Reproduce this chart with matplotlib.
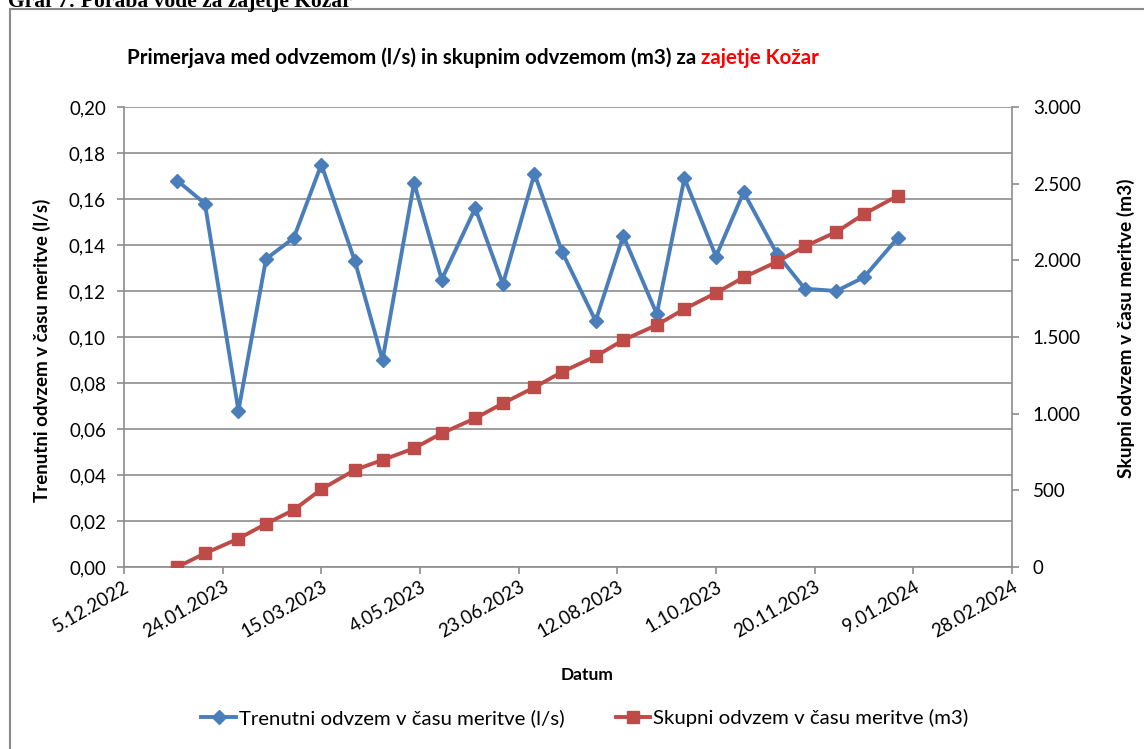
"""Primerjava odvzema (l/s) in skupnega odvzema (m3) za zajetje Kožar.

Leva os: trenutni odvzem, desna os: skupni odvzem. Writes out.png.
"""
from datetime import date, timedelta

import matplotlib
matplotlib.use("Agg")
import matplotlib.pyplot as plt
import matplotlib.dates as mdates
from matplotlib.lines import Line2D
from matplotlib.patches import Rectangle
from matplotlib.ticker import FuncFormatter, MultipleLocator

# ---- data
datumi = ["2023-01-01", "2023-01-15", "2023-02-01", "2023-02-15", "2023-03-01",
          "2023-03-15", "2023-04-01", "2023-04-15", "2023-05-01", "2023-05-15",
          "2023-06-01", "2023-06-15", "2023-07-01", "2023-07-15", "2023-08-01",
          "2023-08-15", "2023-09-01", "2023-09-15", "2023-10-01", "2023-10-15",
          "2023-11-01", "2023-11-15", "2023-12-01", "2023-12-15", "2024-01-01"]
trenutni = [0.168, 0.158, 0.068, 0.134, 0.143, 0.175, 0.133, 0.090, 0.167,
            0.125, 0.156, 0.123, 0.171, 0.137, 0.107, 0.144, 0.110, 0.169,
            0.135, 0.163, 0.136, 0.121, 0.120, 0.126, 0.143]
skupni = [0, 89, 185, 282, 372, 507, 633, 698, 774, 872, 970, 1067, 1172,
          1272, 1374, 1480, 1578, 1683, 1787, 1889, 1991, 2091, 2185, 2302,
          2420]
x_start = date(2022, 12, 5)
x_end = date(2024, 2, 28)

BLUE = "#4A7EBB"
RED = "#BE4B48"
GRID = "#8C8C8C"
FONT = ["Lato", "DejaVu Sans"]

plt.rcParams["font.family"] = FONT
W, H = 1144, 749
fig = plt.figure(figsize=(W / 100, H / 100), dpi=100)


def fx(px):
    return px / W


def fy(py):
    return 1 - py / H


# chart frame and (cut off) caption above it
fig.patches.append(Rectangle((fx(10), fy(760)), fx(1160), fy(9) - fy(760),
                             transform=fig.transFigure, fill=False,
                             edgecolor="#8A8A8A", linewidth=1.5))
fig.text(fx(8), fy(7), "Graf 7: Poraba vode za zajetje Kožar",
         family=["Liberation Serif", "DejaVu Serif"], weight="bold",
         fontsize=15.5, va="baseline", ha="left")

ax = fig.add_axes([fx(124), fy(567), fx(1012) - fx(124), fy(107) - fy(567)])
ax2 = ax.twinx()

x = mdates.datestr2num(datumi)
ax.plot(x, trenutni, color=BLUE, lw=2.8, marker="D", ms=7,
        markeredgecolor=BLUE, zorder=3)
ax2.plot(x, skupni, color=RED, lw=2.8, marker="s", ms=8,
         markeredgecolor=RED, zorder=3)

ax.set_xlim(mdates.date2num(x_start), mdates.date2num(x_end))
ax.set_ylim(0, 0.20)
ax2.set_ylim(0, 3000)
ax.yaxis.set_major_locator(MultipleLocator(0.02))
ax2.yaxis.set_major_locator(MultipleLocator(500))
ax.grid(axis="y", color=GRID, lw=1.2)
ax.set_axisbelow(True)

ticks = [x_start + timedelta(days=50 * i) for i in range(10)]
ax.set_xticks(mdates.date2num(ticks))
ax.xaxis.set_major_formatter(FuncFormatter(
    lambda v, _: "%d.%s" % (mdates.num2date(v).day,
                            mdates.num2date(v).strftime("%m.%Y"))))
ax.yaxis.set_major_formatter(FuncFormatter(lambda v, _: f"{v:.2f}".replace(".", ",")))
ax2.yaxis.set_major_formatter(FuncFormatter(lambda v, _: f"{v:,.0f}".replace(",", ".")))

for a in (ax, ax2):
    for s in a.spines.values():
        s.set_color(GRID)
    a.spines["top"].set_visible(False)
    a.tick_params(colors=GRID, labelcolor="black", labelsize=13.5, length=5,
                  width=1.2, direction="out")
ax.spines["right"].set_visible(False)
ax.spines["left"].set_linewidth(1.2)
ax.spines["bottom"].set_linewidth(1.2)
ax2.spines["right"].set_linewidth(1.2)
ax2.spines["left"].set_visible(False)
ax2.spines["bottom"].set_visible(False)
ax.tick_params(axis="y", pad=8)
ax2.tick_params(axis="y", pad=10)
ax.tick_params(axis="x", pad=3)
for lbl in ax.get_xticklabels():
    lbl.set_rotation(30)
    lbl.set_ha("right")
    lbl.set_rotation_mode("anchor")

ax.set_ylabel("Trenutni odvzem v času meritve (l/s)", fontsize=13.5,
              weight="bold", va="center")
ax.yaxis.set_label_coords(-0.092, 0.47)
ax2.set_ylabel("Skupni odvzem v času meritve (m3)", fontsize=13.8,
               weight="bold", va="center")
ax2.yaxis.set_label_coords(1.128, 0.52)
fig.text(fx(587), fy(675), "Datum", fontsize=12.5, weight="bold",
         ha="center", va="center")

t1 = fig.text(fx(127), fy(58), "Primerjava med odvzemom (l/s) in skupnim "
              "odvzemom (m3) za ", fontsize=14.8, weight="bold",
              ha="left", va="center")
fig.canvas.draw()
ax.annotate("zajetje Kožar", xy=(1, 0), xycoords=t1, va="bottom",
            ha="left", fontsize=14.8, weight="bold", color="red",
            annotation_clip=False)

handles = [Line2D([], [], color=BLUE, lw=2.8, marker="D", ms=7),
           Line2D([], [], color=RED, lw=2.8, marker="s", ms=8)]
fig.legend(handles, ["Trenutni odvzem v času meritve (l/s)",
                     "Skupni odvzem v času meritve (m3)"],
           loc="center", bbox_to_anchor=(fx(585), fy(718)), ncol=2,
           frameon=False, fontsize=14.7, handlelength=1.7, handletextpad=0.15,
           columnspacing=2.5)

fig.savefig("out.png", dpi=100)
